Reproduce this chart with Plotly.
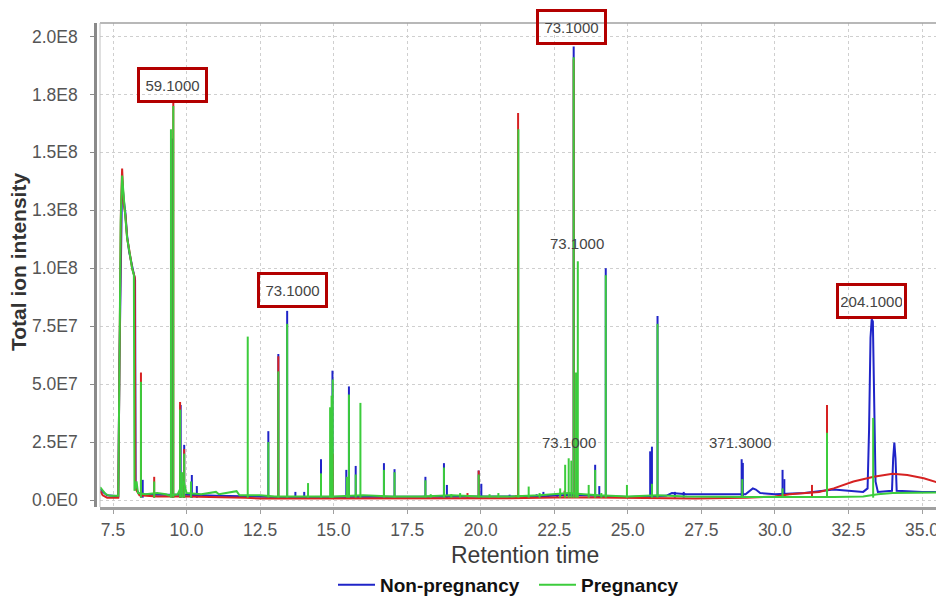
import numpy as np
import plotly.graph_objects as go

# ---------------- data (intensities in millions of counts) ----------------
# continuous trace points (retention time, intensity)
blue_rt = [7.06, 7.15, 7.3, 7.68, 7.72, 7.77, 7.81, 7.86, 7.92, 7.98, 8.05, 8.15, 8.25, 8.27, 8.4,
           9.0, 10.0, 11.0, 12.0, 13.0, 14.0, 15.0, 16.0, 17.0, 18.0, 19.0, 20.0, 21.0, 22.0, 23.0,
           24.0, 25.0, 26.3, 26.5, 27.0, 28.0, 29.0, 29.25, 29.35, 29.5, 30.0, 31.0, 32.0, 32.5,
           33.0, 33.15, 33.2, 33.25, 33.29, 33.33, 33.37, 33.42, 33.5, 33.98, 34.02, 34.06, 34.1,
           34.14, 34.5, 35.0, 35.75]
blue_tic = [5.0, 3.5, 2.0, 1.6, 60, 120, 138, 130, 124, 114, 107, 101, 95, 5, 2.5,
            2.3, 2.3, 1.8, 1.5, 1.3, 1.3, 1.3, 1.5, 1.3, 1.3, 1.5, 1.3, 1.3, 1.5, 2.3,
            1.8, 1.3, 1.8, 3.0, 2.5, 2.5, 2.5, 5.0, 4.5, 3.0, 2.5, 3.0, 4.5, 4.0,
            3.5, 5.0, 30, 70, 78, 77, 40, 8, 3.5, 4.0, 18, 24.8, 18,
            4.0, 3.8, 3.5, 3.5]
blue_peak_rt = [8.51, 9.52, 9.80, 9.92, 10.18, 10.35, 12.78, 13.12, 13.42, 13.7, 14.0, 14.57,
                14.96, 15.43, 15.52, 15.75, 16.71, 17.07, 18.12, 18.75, 18.85, 19.93, 20.02,
                20.98, 21.9, 22.13, 22.6, 23.16, 23.89, 24.03, 24.25, 25.76, 25.82, 26.01,
                26.6, 26.9, 28.87, 28.91, 30.26, 30.32]
blue_peak_h = [8.7, 156, 41, 23.8, 10.8, 6, 29.7, 63, 81.6, 3.5, 3.5, 17.6,
               55.8, 13, 49, 14.7, 15.9, 13.3, 10, 15.9, 6.5, 12.7, 7,
               2.3, 2.5, 3.5, 2.5, 195.7, 15.2, 6, 100, 21, 23, 79.4,
               3.5, 3.5, 17.6, 16, 13, 9]

red_rt = [7.06, 7.15, 7.3, 7.68, 7.72, 7.77, 7.81, 7.86, 7.92, 7.98, 8.05, 8.15, 8.24, 8.26, 8.4,
          9.0, 10.0, 11.0, 12.0, 12.5, 13.5, 15.0, 17.0, 19.0, 21.0, 23.0, 25.0, 27.3, 29.0,
          30.0, 30.5, 31.0, 31.5, 32.0, 32.67, 33.36, 34.0, 34.5, 35.06, 35.63, 35.75]
red_tic = [4.0, 2.0, 1.0, 1.0, 60, 125, 143, 128, 123, 113, 108, 100, 96, 5, 2,
           1.5, 1.5, 1.3, 1.0, 0.6, 0.6, 0.8, 0.8, 0.8, 0.8, 1.2, 0.8, 0.6, 1.0,
           1.5, 2.5, 3.0, 3.5, 5.0, 8.0, 10.0, 11.3, 10.8, 9.4, 7.2, 7.0]
red_peak_rt = [8.45, 8.90, 9.55, 9.78, 9.92, 13.12, 14.97, 19.55, 19.93, 21.2, 21.27, 22.85,
               23.16, 31.26, 31.77]
red_peak_h = [55, 10, 172, 42.3, 22, 62, 20, 3, 12.7, 2, 167, 4,
              190, 6.5, 41]

green_rt = [7.06, 7.15, 7.25, 7.4, 7.68, 7.72, 7.76, 7.81, 7.86, 7.92, 7.98, 8.05, 8.15, 8.21,
            8.23, 8.3, 8.35, 8.6, 9.0, 9.3, 9.4, 9.7, 9.9, 10.0, 10.5, 11.0, 11.1, 11.7, 11.8,
            12.5, 13.0, 14.0, 15.0, 16.0, 17.0, 18.0, 19.0, 20.0, 21.0, 22.0, 22.5, 23.0, 23.5,
            24.0, 25.0, 26.0, 27.0, 28.0, 29.0, 30.0, 31.0, 32.0, 33.0, 33.5, 34.0, 35.0, 35.75]
green_tic = [5.5, 4.0, 2.5, 1.8, 1.8, 60, 120, 140, 130, 122, 113, 107, 100, 97,
             4, 8, 3, 2.5, 3.0, 2.5, 2.0, 2.5, 8, 3, 2.5, 3.5, 2.5, 3.8, 2.0,
             2.0, 1.5, 1.5, 1.5, 2.0, 1.5, 1.5, 2.0, 1.5, 1.5, 2.0, 2.5, 3.0, 2.5,
             2.0, 1.5, 2.0, 1.5, 1.3, 1.3, 1.3, 1.2, 1.3, 1.5, 2.5, 3.0, 3.2, 3.3]
green_peak_rt = [8.45, 8.90, 9.47, 9.55, 9.78, 9.85, 9.92, 10.15, 12.08, 12.78, 13.12, 13.42,
                 14.13, 14.57, 14.88, 14.93, 14.97, 15.45, 15.52, 15.75, 15.91, 16.71, 17.07,
                 18.12, 18.3, 18.75, 19.0, 19.3, 19.93, 20.3, 20.6, 21.28, 21.63, 22.0, 22.7,
                 22.87, 22.99, 23.08, 23.16, 23.24, 23.30, 23.67, 23.89, 24.1, 24.25, 24.97,
                 25.82, 26.01, 28.89, 30.26, 31.77, 33.34]
green_peak_h = [51, 8, 160, 170, 39, 12, 20, 8, 70.5, 25, 55.5, 76,
                7.3, 11.5, 40, 45, 52, 10, 45.5, 11, 41.9, 13, 12,
                8.5, 2.5, 14, 2.5, 3, 11, 2.5, 3, 160, 5.8, 3, 5,
                15.2, 18, 17, 191, 55, 103, 6.5, 13, 3, 97, 6.5,
                7, 76, 9, 5, 29, 35.4]

# peak labels (m/z) : text, retention time, intensity (millions), boxed?
label_text = ["59.1000", "73.1000", "73.1000", "204.1000", "73.1000", "73.1000", "371.3000"]
label_rt = [9.51, 13.59, 23.10, 33.30, 23.28, 23.00, 28.84]
label_y = [178.9, 90.6, 204.0, 86.0, 110.5, 24.7, 24.7]
label_boxed = [True, True, True, True, False, False, False]

y_tickvals = [0, 25, 50, 75, 100, 125, 150, 175, 200]
y_ticktext = ["0.0E0", "2.5E7", "5.0E7", "7.5E7", "1.0E8", "1.3E8", "1.5E8", "1.8E8", "2.0E8"]
x_tickvals = [7.5, 10.0, 12.5, 15.0, 17.5, 20.0, 22.5, 25.0, 27.5, 30.0, 32.5, 35.0]

# ---------------- build traces ----------------
FOOT = 1.0  # spike foot (millions)


def build(rt, tic, prt, ph):
    xs = list(rt) + [None]
    ys = [v * 1e6 for v in tic] + [None]
    for r, h in zip(prt, ph):
        xs += [r, r, None]
        ys += [FOOT * 1e6, h * 1e6, None]
    return xs, ys


BLUE = "#1f24c8"
RED = "#d62222"
GREEN = "#3ccc3c"

fig = go.Figure()
bx, by = build(blue_rt, blue_tic, blue_peak_rt, blue_peak_h)
rx, ry = build(red_rt, red_tic, red_peak_rt, red_peak_h)
gx, gy = build(green_rt, green_tic, green_peak_rt, green_peak_h)
fig.add_trace(go.Scatter(x=bx, y=by, mode="lines", name="Non-pregnancy",
                         line=dict(color=BLUE, width=2), connectgaps=False))
fig.add_trace(go.Scatter(x=rx, y=ry, mode="lines", name="Other", showlegend=False,
                         line=dict(color=RED, width=2), connectgaps=False))
fig.add_trace(go.Scatter(x=gx, y=gy, mode="lines", name="Pregnancy",
                         line=dict(color=GREEN, width=2), connectgaps=False))

# the page body has an 8px margin, so the figure is 8px smaller and all
# screen positions below are in window pixels
OFF = 8
W, H = 944 - OFF, 597 - OFF
L, T = 95 - OFF, 23 - OFF
R = 0
PLOT_BOTTOM = 507 - OFF
B = H - PLOT_BOTTOM
pw = W - L - R
ph_ = H - T - B
xdom0 = 5 / pw


def px_x(sx):  # window x -> paper x
    return (sx - OFF - L) / pw


def px_y(sy):  # window y -> paper y
    return (PLOT_BOTTOM - (sy - OFF)) / ph_


annotations = []
for txt, xr, yv, boxed in zip(label_text, label_rt, label_y, label_boxed):
    a = dict(x=xr, y=yv * 1e6, xref="x", yref="y", text=txt, showarrow=False,
             xanchor="center", yanchor="middle",
             font=dict(family="Liberation Sans, Arial, sans-serif", size=15, color="#444444"))
    if boxed:
        a.update(bordercolor="#b30000", borderwidth=3, borderpad=2, width=61, height=26)
    annotations.append(a)

annotations.append(dict(x=px_x(19), y=px_y(262), xref="paper", yref="paper",
                        text="Total ion intensity", textangle=-90, showarrow=False,
                        xanchor="center", yanchor="middle",
                        font=dict(family="Liberation Sans, Arial, sans-serif", size=21,
                                  color="#333333", weight="bold")))
annotations.append(dict(x=px_x(525), y=px_y(555), xref="paper", yref="paper",
                        text="Retention time", showarrow=False,
                        xanchor="center", yanchor="middle",
                        font=dict(family="Liberation Sans, Arial, sans-serif", size=23,
                                  color="#3a3a3a")))

shapes = [
    dict(type="line", xref="paper", yref="paper", x0=xdom0, x1=1, y0=1, y1=1,
         line=dict(color="#a0a0a0", width=1.5)),
    dict(type="line", xref="paper", yref="paper", x0=xdom0, x1=xdom0, y0=0, y1=1,
         line=dict(color="#c0c0c0", width=1)),
]

tickfont = dict(family="Liberation Sans, Arial, sans-serif", size=17.5, color="#555555")

fig.update_layout(
    width=W, height=H,
    margin=dict(l=L, r=R, t=T, b=B, autoexpand=False),
    paper_bgcolor="white", plot_bgcolor="white",
    xaxis=dict(domain=[xdom0, 1], range=[7.058, 35.748], tickvals=x_tickvals,
               ticktext=[f"{v:.1f}" for v in x_tickvals],
               showgrid=True, gridcolor="#cfcfcf", griddash="dot", gridwidth=1,
               zeroline=False, showline=True, linecolor="#a0a0a0", linewidth=2.5,
               ticks="outside", ticklen=4, tickcolor="#a0a0a0", tickfont=tickfont,
               ticklabelstandoff=1, anchor="y", automargin=False),
    yaxis=dict(range=[-3.02e6, 2.058e8], tickvals=[v * 1e6 for v in y_tickvals],
               ticktext=y_ticktext, anchor="free", position=0,
               showgrid=True, gridcolor="#cfcfcf", griddash="dot", gridwidth=1,
               zeroline=False, showline=True, linecolor="#8a8a8a", linewidth=2.5,
               ticks="outside", ticklen=4, tickcolor="#8a8a8a", tickfont=tickfont,
               ticklabelstandoff=9, automargin=False),
    showlegend=True,
    legend=dict(orientation="h", xref="container", yref="container",
                x=(333 - OFF) / W, xanchor="left",
                y=(H - (585 - OFF)) / H, yanchor="middle", itemwidth=37,
                entrywidth=149,
                font=dict(family="Liberation Sans, Arial, sans-serif", size=19,
                          color="#111111", weight="bold"),
                bgcolor="rgba(0,0,0,0)"),
    annotations=annotations,
    shapes=shapes,
)

fig.write_html("out.html")
